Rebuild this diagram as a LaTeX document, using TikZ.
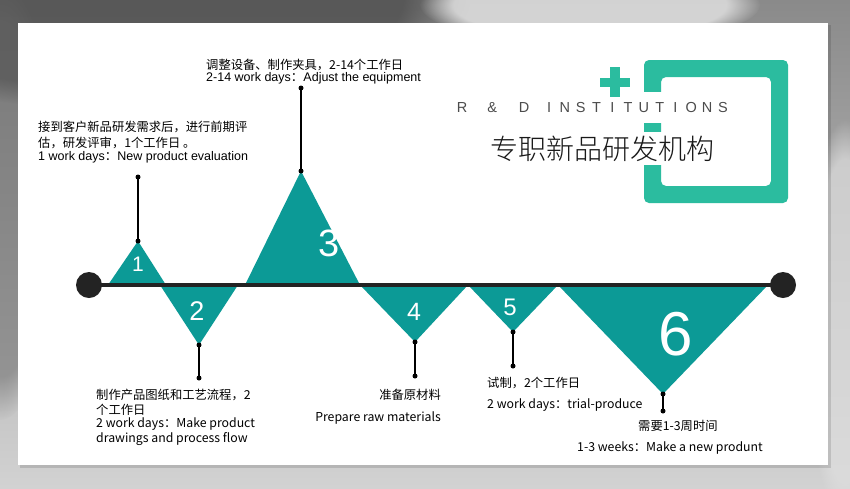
\documentclass[tikz,border=0pt]{standalone}
\usepackage{fontspec}
\setmainfont{Liberation Sans}
\newfontfamily\cjk{Noto Sans CJK SC}
\newfontfamily\cjklight{Noto Sans CJK SC Light}
\newcommand\spacedch[2][15.8pt]{\makebox[#1]{#2}}
\usetikzlibrary{fadings}
\definecolor{tealtri}{HTML}{0C9A96}
\definecolor{tealsq}{HTML}{2BBC9F}
\definecolor{darkline}{HTML}{232323}
\definecolor{bgtop}{HTML}{8A8A8A}
\definecolor{bgbot}{HTML}{D2D2D2}
\begin{document}
\begin{tikzpicture}[x=1pt,y=-1pt,
  tri/.style={fill=tealtri},
  lead/.style={draw=black, line width=1.8pt},
  enddot/.style={circle, fill=black, inner sep=0pt, minimum size=5pt},
  endball/.style={circle, fill=darkline, inner sep=0pt, minimum size=26pt},
  num/.style={text=white, inner sep=0pt},
  lbl/.style={anchor=west, inner sep=0pt, text=black, font=\fontsize{12.5}{14}\selectfont},
  lblc/.style={anchor=west, inner sep=0pt, text=black, font=\cjk\fontsize{12.3}{14}\selectfont},
]
\useasboundingbox (0,0) rectangle (850,488);
% background
\shade[top color=bgtop, bottom color=bgbot] (0,0) rectangle (850,488);
\fill[black!70, opacity=0.8, path fading=circle with fuzzy edge 20 percent] (130,0) ellipse [x radius=340, y radius=110];
\fill[black!60, opacity=0.5, path fading=circle with fuzzy edge 20 percent] (0,200) ellipse [x radius=60, y radius=220];
\fill[gray!20, opacity=0.8, path fading=circle with fuzzy edge 20 percent] (590,5) ellipse [x radius=170, y radius=40];
\fill[gray!25, opacity=0.7, path fading=circle with fuzzy edge 20 percent] (845,320) ellipse [x radius=40, y radius=200];
% panel
\fill[black, opacity=0.12] (20,25) rectangle (831,468);
\fill[white] (18,23) rectangle (828,465);
% logo square
\fill[tealsq, rounded corners=5pt, even odd rule] (644,60) rectangle (788,203) (661,77) rectangle (771,186);
\fill[white] (643,92) rectangle (661.5,123);
\fill[white] (643,132) rectangle (661.5,165);
\fill[tealsq] (600,78) rectangle (630,87);
\fill[tealsq] (610,67) rectangle (620,97);
\node[anchor=west, inner sep=0pt, text=black!70, font=\fontsize{14.5}{17}\selectfont] (rd) at (447,108) {\spacedch[30pt]{R}\spacedch[30pt]{\&}\spacedch[34pt]{D}\spacedch{I}\spacedch{N}\spacedch{S}\spacedch{T}\spacedch{I}\spacedch{T}\spacedch{U}\spacedch{T}\spacedch{I}\spacedch{O}\spacedch{N}\spacedch{S}};
\node[anchor=west, inner sep=0pt, text=black!90, font=\cjklight\fontsize{28}{32}\selectfont] (title) at (490,149) {专职新品研发机构};
% triangles
\fill[tri] (108,285) -- (166,285) -- (138,241) -- cycle;
\fill[tri] (160,285) -- (238,285) -- (199,345) -- cycle;
\fill[tri] (245,285) -- (360,285) -- (301,171) -- cycle;
\fill[tri] (360,285) -- (468,285) -- (415,342) -- cycle;
\fill[tri] (468,285) -- (558,285) -- (513,332) -- cycle;
\fill[tri] (558,285) -- (768,285) -- (663,394) -- cycle;
\node[num, font=\fontsize{21}{21}\selectfont] (n1) at (138,264) {1};
\node[num, font=\fontsize{27}{27}\selectfont] (n2) at (197,311) {2};
\node[num, font=\fontsize{38}{38}\selectfont] (n3) at (329,243) {3};
\node[num, font=\fontsize{25}{25}\selectfont] (n4) at (414,312) {4};
\node[num, font=\fontsize{24}{24}\selectfont] (n5) at (510,307) {5};
\node[num, font=\fontsize{62}{62}\selectfont] (n6) at (676,334) {6};
% timeline
\node[endball] (ls) at (89,285) {};
\node[endball] (le) at (783,285) {};
\draw[draw=darkline, line width=4pt] (ls.center) -- (le.center);
% leads
\node[enddot] (a1) at (138,241) {}; \node[enddot] (b1) at (138,177) {};
\node[enddot] (a2) at (199,345) {}; \node[enddot] (b2) at (199,378) {};
\node[enddot] (a3) at (301,171) {}; \node[enddot] (b3) at (301,88) {};
\node[enddot] (a4) at (415,342) {}; \node[enddot] (b4) at (415,376) {};
\node[enddot] (a5) at (513,332) {}; \node[enddot] (b5) at (513,366) {};
\node[enddot] (a6) at (663,394) {}; \node[enddot] (b6) at (663,411) {};
\draw[lead] (a1.center) -- (b1.center);
\draw[lead] (a2.center) -- (b2.center);
\draw[lead] (a3.center) -- (b3.center);
\draw[lead] (a4.center) -- (b4.center);
\draw[lead] (a5.center) -- (b5.center);
\draw[lead] (a6.center) -- (b6.center);
% texts
\node[lblc] (t1a) at (38,127) {接到客户新品研发需求后，进行前期评};
\node[lblc] (t1b) at (38,143) {估，研发评审，1个工作日 。};
\node[lbl] (t1c) at (38,157) {1 work days{\cjk ：}New product evaluation};
\node[lblc] (t3a) at (206,65) {调整设备、制作夹具，2-14个工作日};
\node[lbl] (t3b) at (206,78) {2-14 work days{\cjk ：}Adjust the equipment};
\node[lblc] (t2a) at (96,395) {制作产品图纸和工艺流程，2};
\node[lblc] (t2b) at (96,410) {个工作日};
\node[lblc] (t2c) at (96,424) {2 work days：Make product};
\node[lblc] (t2d) at (96,439) {drawings and process flow};
\node[lblc, anchor=east] (t4a) at (441,395) {准备原材料};
\node[lblc, anchor=east] (t4b) at (441,418) {Prepare raw materials};
\node[lblc] (t5a) at (487,383) {试制，2个工作日};
\node[lblc] (t5b) at (487,405) {2 work days：trial-produce};
\node[lblc] (t6a) at (638,426) {需要1-3周时间};
\node[lblc] (t6b) at (577,448) {1-3 weeks：Make a new produnt};
\end{tikzpicture}
\end{document}
